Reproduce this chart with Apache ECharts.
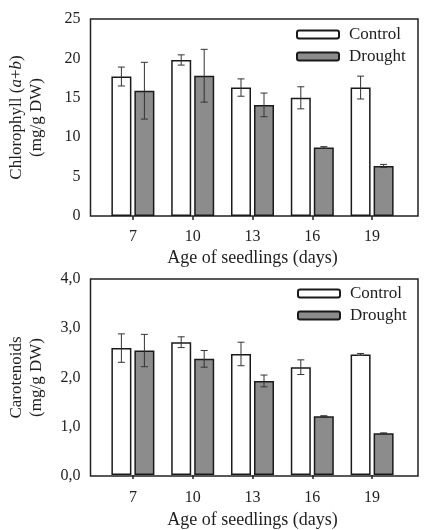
<!DOCTYPE html>
<html>
<head>
<meta charset="utf-8">
<script src="https://cdn.jsdelivr.net/npm/echarts@6/dist/echarts.min.js"></script>
<style>html,body{margin:0;padding:0;background:#fff}#c{width:425px;height:530px}</style>
</head>
<body>
<div id="c"></div>
<script>
const categories = ['7', '10', '13', '16', '19'];
const chlControl = [17.7, 19.8, 16.3, 15.0, 16.3];
const chlControlErr = [1.2, 0.65, 1.1, 1.4, 1.45];
const chlDrought = [15.9, 17.8, 14.1, 8.7, 6.35];
const chlDroughtErr = [3.6, 3.35, 1.5, 0.1, 0.2];
const carControl = [2.59, 2.71, 2.47, 2.2, 2.46];
const carControlErr = [0.29, 0.11, 0.24, 0.15, 0.02];
const carDrought = [2.54, 2.37, 1.92, 1.2, 0.85];
const carDroughtErr = [0.33, 0.17, 0.12, 0.01, 0.01];
const chlTicks = {min: 0, max: 25, interval: 5};
const carTicks = {min: 0, max: 4, interval: 1};

const FONT = '"Liberation Serif", "Times New Roman", serif';
const TXT = '#1e1e1e';
const BAR_W = 20, BAR_GAP = 3;

function errSeries(name, vals, errs, axisIdx, side) {
  return {
    type: 'custom', name: name + ' err', xAxisIndex: axisIdx, yAxisIndex: axisIdx, z: 5,
    silent: true,
    data: vals.map((v, i) => [i, v, errs[i]]),
    renderItem: function (params, api) {
      const i = api.value(0), v = api.value(1), e = api.value(2);
      const off = side * (BAR_W + BAR_GAP) / 2;
      const top = api.coord([i, v + e]);
      const bot = api.coord([i, v - e]);
      const x = top[0] + off;
      const cap = 3.5;
      const st = {stroke: '#333', lineWidth: 1};
      return {type: 'group', children: [
        {type: 'line', shape: {x1: x, y1: top[1], x2: x, y2: bot[1]}, style: st},
        {type: 'line', shape: {x1: x - cap, y1: top[1], x2: x + cap, y2: top[1]}, style: st},
        {type: 'line', shape: {x1: x - cap, y1: bot[1], x2: x + cap, y2: bot[1]}, style: st}
      ]};
    }
  };
}
function barSeries(name, vals, axisIdx, fill) {
  return {
    type: 'bar', name: name, xAxisIndex: axisIdx, yAxisIndex: axisIdx, data: vals,
    barWidth: BAR_W, barGap: (BAR_GAP / BAR_W * 100) + '%',
    itemStyle: {color: fill, borderColor: '#1a1a1a', borderWidth: 1.5}
  };
}
const commaFmt = v => v.toFixed(1).replace('.', ',');

const top1 = 19, bot1 = 314, top2 = 279, bot2 = 54;
const frameL = 88, frameR = 7, barsL = 103, barsW = 299;

const legendText = {fontFamily: FONT, fontSize: 17, color: TXT, padding: [0, 0, 0, 5]};
const tickText = {fontFamily: FONT, fontSize: 16, color: TXT};
const nameText = {fontFamily: FONT, fontSize: 18, color: TXT};

const chart = echarts.init(document.getElementById('c'), null, {renderer: 'canvas'});
chart.setOption({
  animation: false,
  backgroundColor: '#fff',
  textStyle: {fontFamily: FONT},
  grid: [
    {left: frameL, right: frameR, top: top1, bottom: bot1, show: true, borderColor: '#222', borderWidth: 1.5},
    {left: barsL, width: barsW, top: top1, bottom: bot1},
    {left: frameL, right: frameR, top: top2, bottom: bot2, show: true, borderColor: '#222', borderWidth: 1.5},
    {left: barsL, width: barsW, top: top2, bottom: bot2}
  ],
  legend: [
    {left: 291, top: 21, orient: 'vertical', itemWidth: 42, itemHeight: 8, itemGap: 5, icon: 'roundRect',
     data: ['Control', 'Drought'], selectedMode: false, textStyle: legendText},
    {left: 292, top: 280, orient: 'vertical', itemWidth: 42, itemHeight: 8, itemGap: 5, icon: 'roundRect',
     data: ['Control', 'Drought'], selectedMode: false, textStyle: legendText}
  ],
  xAxis: [
    {gridIndex: 0, type: 'value', show: false, min: 0, max: 1},
    {gridIndex: 1, type: 'category', data: categories,
     axisLine: {show: false}, axisTick: {show: true, alignWithLabel: true, length: 4, lineStyle: {color: '#222', width: 1.5}},
     axisLabel: Object.assign({margin: 13}, tickText),
     name: 'Age of seedlings (days)', nameLocation: 'middle', nameGap: 33, nameTextStyle: nameText},
    {gridIndex: 2, type: 'value', show: false, min: 0, max: 1},
    {gridIndex: 3, type: 'category', data: categories,
     axisLine: {show: false}, axisTick: {show: true, alignWithLabel: true, length: 4, lineStyle: {color: '#222', width: 1.5}},
     axisLabel: Object.assign({margin: 15}, tickText),
     name: 'Age of seedlings (days)', nameLocation: 'middle', nameGap: 36, nameTextStyle: nameText}
  ],
  yAxis: [
    {gridIndex: 0, type: 'value', min: chlTicks.min, max: chlTicks.max, interval: chlTicks.interval,
     axisLine: {show: false}, axisTick: {show: false}, splitLine: {show: false},
     axisLabel: Object.assign({margin: 10}, tickText),
     name: '{n|Chlorophyll (}{i|a}{n|+}{i|b}{n|)}\n{n|(mg/g DW)}', nameLocation: 'middle', nameGap: 44,
     nameTextStyle: {rich: {n: {fontFamily: FONT, fontSize: 17, color: TXT, lineHeight: 20},
                            i: {fontFamily: FONT, fontSize: 17, color: TXT, fontStyle: 'italic', lineHeight: 20}}}},
    {gridIndex: 1, type: 'value', min: chlTicks.min, max: chlTicks.max, show: false, splitLine: {show: false}},
    {gridIndex: 2, type: 'value', min: carTicks.min, max: carTicks.max, interval: carTicks.interval,
     axisLine: {show: false}, axisTick: {show: false}, splitLine: {show: false},
     axisLabel: Object.assign({margin: 10, formatter: commaFmt}, tickText),
     name: '{n|Carotenoids}\n{n|(mg/g DW)}', nameLocation: 'middle', nameGap: 44,
     nameTextStyle: {rich: {n: {fontFamily: FONT, fontSize: 17, color: TXT, lineHeight: 20}}}},
    {gridIndex: 3, type: 'value', min: carTicks.min, max: carTicks.max, show: false, splitLine: {show: false}}
  ],
  series: [
    barSeries('Control', chlControl, 1, '#ffffff'),
    barSeries('Drought', chlDrought, 1, '#8c8c8c'),
    errSeries('Control', chlControl, chlControlErr, 1, -1),
    errSeries('Drought', chlDrought, chlDroughtErr, 1, 1),
    barSeries('Control', carControl, 3, '#ffffff'),
    barSeries('Drought', carDrought, 3, '#8c8c8c'),
    errSeries('Control', carControl, carControlErr, 3, -1),
    errSeries('Drought', carDrought, carDroughtErr, 3, 1)
  ]
});
</script>
</body>
</html>
